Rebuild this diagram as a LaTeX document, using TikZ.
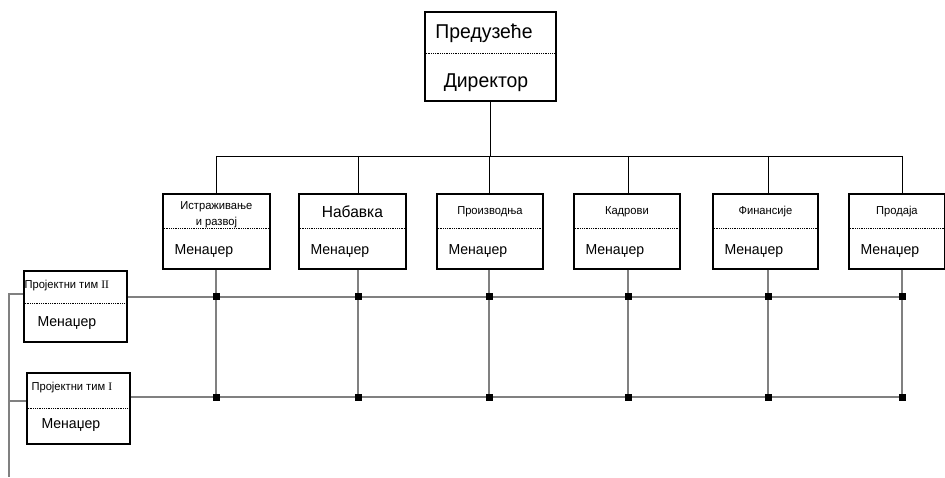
\documentclass[tikz,border=0pt]{standalone}
\usepackage{fontspec}
\setmainfont{Liberation Sans}
\newfontfamily\orgfont[FakeStretch=0.97]{Liberation Sans}
\newfontfamily\numfont{Liberation Serif}
\usetikzlibrary{positioning}
\definecolor{gridgray}{gray}{0.5}
\tikzset{unitbox/.style = {draw, line width=1.8pt, inner sep=0pt, anchor=north west},
         split/.style   = {densely dotted, line width=0.8pt},
         link/.style    = {line width=0.9pt},
         gridline/.style= {gridgray, line width=1.2pt},
         joint/.style   = {fill, inner sep=0pt, minimum size=7pt},
         boxtitle/.style= {font=\orgfont\fontsize{11.5}{16}\selectfont, align=center},
         mgrtext/.style = {font=\orgfont\fontsize{14.5}{14}\selectfont, anchor=west}}

\begin{document}
\begin{tikzpicture}[x=1pt, y=-1pt]
    \useasboundingbox (0,0) rectangle (945,478);
    \coordinate (rowII) at (0,297);
    \coordinate (rowI) at (0,397);
    \coordinate (spine) at (9,477);
    % top of the hierarchy
    \node [unitbox, minimum width=131pt, minimum height=89pt] (firm) at (424,11) {};
    \draw [split] (firm.west |- 0,53) -- (firm.east |- 0,53);
    \node [font=\orgfont\fontsize{20}{20}\selectfont] (firm-title) at (484,33) {Предузеће};
    \node [font=\orgfont\fontsize{20}{20}\selectfont] (firm-head) at (486,83) {Директор};
    % departments
    \foreach \dep/\x/\w/\col/\fs/\ty/\title in {research/162/107/216/11.5/215/{Истраживање\\и развој},
                                               supply/298/107/358/16/212/Набавка,
                                               production/436/106/489/11.5/212/Производња,
                                               staff/573/106/628/11.5/212/Кадрови,
                                               finance/712/105/768/11.5/212/Финансије,
                                               sales/848/96/902/11.5/212/Продаја} {
      \node [unitbox, minimum width=\w pt, minimum height=75pt] (\dep) at (\x,193) {};
      \draw [split] (\dep.west |- 0,228) -- (\dep.east |- 0,228);
      \node [boxtitle, font=\orgfont\fontsize{\fs}{16}\selectfont] (\dep-title) at (\dep.north |- 0,\ty) {\title};
      \node [mgrtext] (\dep-mgr) at (\x+9,251) {Менаџер};
      \coordinate (\dep-col) at (\col,156);
      \draw [link] (\dep-col) -- (\dep-col |- \dep.north);
      \draw [gridline] (\dep-col |- \dep.south) -- (\dep-col |- rowI);
    }
    \draw [link] (research-col) -- (sales-col);
    \draw [link] (firm.south) -- (firm.south |- research-col);
    % project teams
    \node [unitbox, minimum width=103pt, minimum height=71pt] (teamII) at (23,270) {};
    \draw [split] (teamII.west |- 0,303) -- (teamII.east |- 0,303);
    \node [boxtitle, anchor=west] (teamII-title) at (21,286) {Пројектни тим \numfont II};
    \node [mgrtext] (teamII-mgr) at (34,323) {Менаџер};
    \node [unitbox, minimum width=103pt, minimum height=71pt] (teamI) at (26,372) {};
    \draw [split] (teamI.west |- 0,408) -- (teamI.east |- 0,408);
    \node [boxtitle, anchor=west] (teamI-title) at (28,388) {Пројектни тим \numfont I};
    \node [mgrtext] (teamI-mgr) at (38,425) {Менаџер};
    % matrix lines
    \draw [gridline] (teamII.east |- rowII) -- (sales-col |- rowII);
    \draw [gridline] (teamI.east |- rowI) -- (sales-col |- rowI);
    \draw [gridline] (teamII.west |- 0,294) -| (spine);
    \draw [gridline] (teamI.west |- 0,401) -- (spine |- 0,401);
    \foreach \dep in {research, supply, production, staff, finance, sales} {
      \node [joint] (\dep-jII) at (\dep-col |- rowII) {};
      \node [joint] (\dep-jI) at (\dep-col |- rowI) {};
    }
\end{tikzpicture}
\end{document}
